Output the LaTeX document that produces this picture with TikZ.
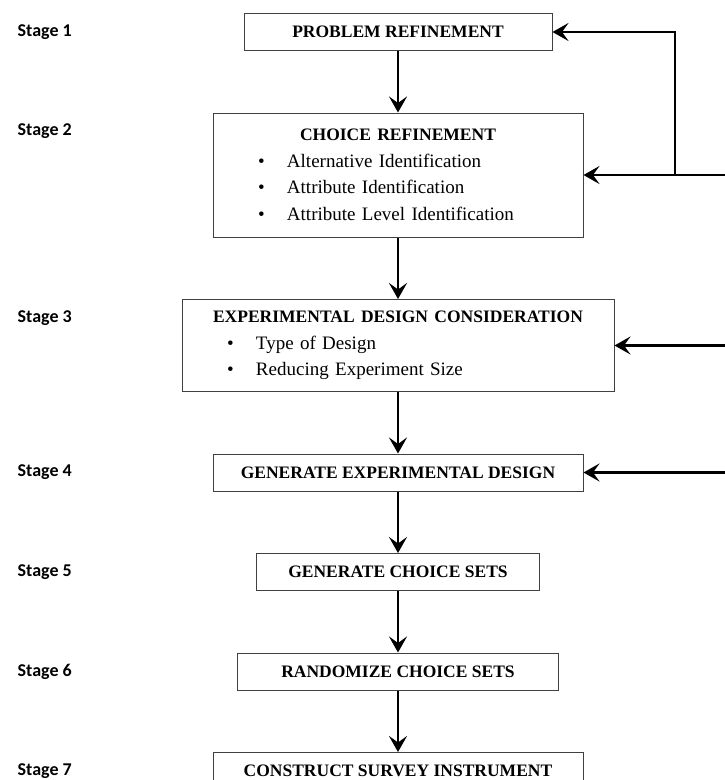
\documentclass[tikz,border=0pt]{standalone}
\usepackage{fontspec}
\setmainfont{Liberation Serif}
\newfontfamily\stagefont{Carlito}
\usetikzlibrary{positioning,arrows.meta,calc}
\newcommand{\btitle}[1]{\makebox[\hsize]{\fontsize{17.5}{26.5}\selectfont\bfseries #1}}
\newcommand{\bitem}[1]{\hspace*{45pt}\makebox[29pt][l]{\textbullet}#1}

\begin{document}
\begin{tikzpicture}[x=1pt, y=-1pt,
  node distance=61.5pt,
  >={Stealth[length=16pt, width=18pt, inset=6.5pt]},
  blk/.style={draw=black!75, line width=1pt, inner sep=0pt, align=center, minimum height=37pt},
  head/.style={blk, font=\fontsize{17.5}{21}\selectfont\bfseries},
  list/.style={blk, align=left, font=\fontsize{19}{26.5}\selectfont},
  lbl/.style={anchor=west, inner sep=0pt, font=\stagefont\bfseries\fontsize{18}{20}\selectfont},
  arr/.style={->, line width=2.7pt}]
  \useasboundingbox (0,0) rectangle (724,780);
  % main column
  \node[head, minimum width=308pt] (prob) at (398,32) {PROBLEM REFINEMENT};
  \node[list, text width=370pt, minimum height=124pt, below=of prob] (choice)
    {\btitle{CHOICE REFINEMENT}\\ \bitem{Alternative Identification}\\
     \bitem{Attribute Identification}\\ \bitem{Attribute Level Identification}};
  \node[list, text width=432pt, minimum height=92pt, below=of choice] (expd)
    {\btitle{EXPERIMENTAL DESIGN CONSIDERATION}\\ \bitem{Type of Design}\\
     \bitem{Reducing Experiment Size}};
  \node[head, minimum width=370pt, below=of expd] (gen) {GENERATE EXPERIMENTAL DESIGN};
  \node[head, minimum width=283pt, below=of gen] (sets) {GENERATE CHOICE SETS};
  \node[head, minimum width=321pt, below=of sets] (rand) {RANDOMIZE CHOICE SETS};
  \node[head, minimum width=370pt, below=of rand] (survey) {CONSTRUCT SURVEY INSTRUMENT};
  % stage labels
  \coordinate (lft) at (17.5,0);
  \node[lbl] (st1) at (lft |- prob) {Stage 1};
  \node[lbl] (st2) at ($(lft |- choice.north)+(0,18.5)$) {Stage 2};
  \node[lbl] (st3) at ($(lft |- expd.north)+(0,19)$) {Stage 3};
  \node[lbl] (st4) at (lft |- gen) {Stage 4};
  \node[lbl] (st5) at (lft |- sets) {Stage 5};
  \node[lbl] (st6) at (lft |- rand) {Stage 6};
  \node[lbl] (st7) at (lft |- survey) {Stage 7};
  % arrows
  \foreach \a/\b in {prob/choice, choice/expd, expd/gen, gen/sets, sets/rand, rand/survey}
    \draw[arr] (\a) -- (\b);
  % feedback from the right
  \coordinate (loop) at (675,0);
  \coordinate (rim) at (740,0);
  \foreach \b in {choice, expd, gen}
    \draw[arr] (rim |- \b.east) -- (\b.east);
  \draw[arr] (loop |- choice.east) |- (prob.east);
\end{tikzpicture}
\end{document}
